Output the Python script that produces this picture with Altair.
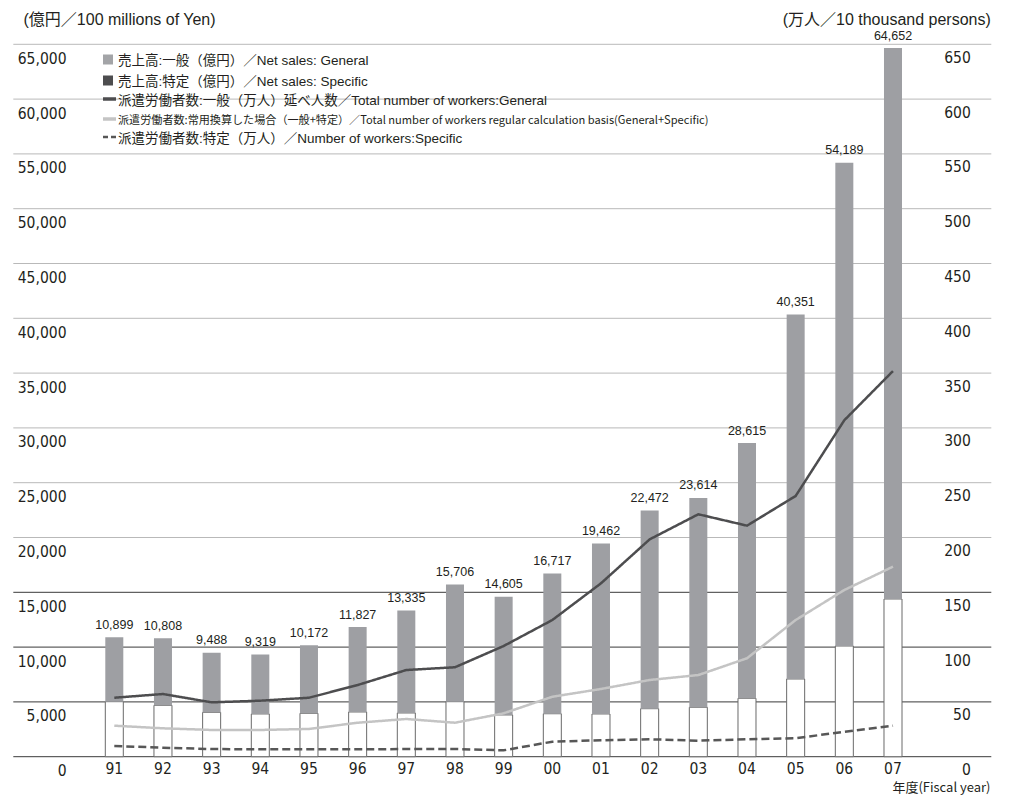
import altair as alt
import pandas as pd

# ---------------- data ----------------
years = ["91", "92", "93", "94", "95", "96", "97", "98", "99", "00",
         "01", "02", "03", "04", "05", "06", "07"]
sales_total = [10899, 10808, 9488, 9319, 10172, 11827, 13335, 15706, 14605,
               16717, 19462, 22472, 23614, 28615, 40351, 54189, 64652]
sales_specific = [5020, 4690, 4050, 3900, 3960, 4080, 3990, 5020, 3810,
                  3920, 3900, 4380, 4510, 5330, 7090, 10100, 14390]
workers_general = [53.8, 57.2, 49.6, 51.1, 53.8, 65.4, 79.1, 81.6, 101.0,
                   124.7, 158.2, 198.3, 221.2, 210.8, 237.9, 307.0, 351.9]
workers_regular = [28.3, 25.9, 24.4, 24.4, 25.3, 31.0, 34.4, 31.0, 39.6,
                   54.7, 61.8, 70.0, 74.5, 89.8, 124.7, 152.1, 173.4]
workers_specific = [9.8, 8.2, 7.0, 6.7, 6.7, 6.7, 7.0, 7.0, 5.8,
                    13.7, 15.0, 15.9, 14.6, 15.9, 16.8, 22.8, 28.3]

left_ticks = list(range(0, 65001, 5000))
right_ticks = list(range(0, 651, 50))
series_keys = ["general", "regular", "specific"]
legend_labels = [
    "売上高:一般（億円）／Net sales: General",
    "売上高:特定（億円）／Net sales: Specific",
    "派遣労働者数:一般（万人）延べ人数／Total number of workers:General",
    "派遣労働者数:常用換算した場合（一般+特定）／Total number of workers regular calculation basis(General+Specific)",
    "派遣労働者数:特定（万人）／Number of workers:Specific",
]
left_title = "(億円／100 millions of Yen)"
right_title = "(万人／10 thousand persons)"
x_title = "年度(Fiscal year)"

# ---------------- styles ----------------
NUM_FONT = "'Liberation Sans Narrow', 'DejaVu Sans Condensed', Roboto, sans-serif"
TXT_FONT = "'Liberation Sans', 'Noto Sans CJK JP', sans-serif"
NARROW_JP = "'Liberation Sans Narrow', 'Noto Sans CJK JP', sans-serif"
INK = "#231f20"
BAR_GRAY = "#9e9fa3"
LINE_DARK = "#4d4d4f"
LINE_LIGHT = "#c4c4c4"

W, H = 978, 712.4
PAD = {"left": 5.3, "top": 36.3, "right": 13.7, "bottom": 40.3}

bars_df = pd.DataFrame({"year": years, "total": sales_total, "specific": sales_specific})
grid_df = pd.DataFrame({"v": left_ticks})
lines_df = pd.DataFrame(
    [{"year": y, "series": k, "value": v}
     for k, vals in zip(series_keys, [workers_general, workers_regular, workers_specific])
     for y, v in zip(years, vals)]
)

xscale = alt.Scale(paddingInner=0.63, paddingOuter=0, range=[92, 888.7])
x_axis = alt.Axis(
    orient="bottom", labelAngle=0, ticks=False, domain=False, grid=False,
    labelFont=NUM_FONT, labelFontSize=15.5, labelColor=INK,
    labelPadding=12, labelBaseline="middle",
    title=x_title, titleFont=NARROW_JP, titleFontSize=13, titleFontWeight="normal",
    titleColor=INK, titleAlign="right", titleBaseline="middle",
    titleX=976.7, titleY=31,
)

left_axis = alt.Axis(
    orient="left", values=left_ticks, format=",d",
    ticks=False, domain=False, grid=False,
    labelAlign="right", labelPadding=-52.7, labelBaseline="middle", labelOffset=14,
    labelFont=NUM_FONT, labelFontSize=15.5, labelColor=INK,
    title=left_title, titleAngle=0, titleAlign="left", titleBaseline="middle",
    titleX=9.7, titleY=-24.5, titleFont=TXT_FONT, titleFontSize=16,
    titleFontWeight="normal", titleColor=INK,
)
right_axis = alt.Axis(
    orient="right", values=right_ticks, format="d",
    ticks=False, domain=False, grid=False,
    labelAlign="right", labelPadding=-21, labelBaseline="middle", labelOffset=13,
    labelFont=NUM_FONT, labelFontSize=15.5, labelColor=INK,
    title=right_title, titleAngle=0, titleAlign="right", titleBaseline="middle",
    titleX=-1, titleY=-24.5, titleFont=TXT_FONT, titleFontSize=16,
    titleFontWeight="normal", titleColor=INK,
)
lscale = alt.Scale(domain=[0, 65000], nice=False, zero=True)
rscale = alt.Scale(domain=[0, 650], nice=False, zero=True)

x_enc = alt.X("year:N", sort=years, scale=xscale, axis=x_axis)

# gridlines: dark for the lower four values, light above
grid = alt.Chart(grid_df).mark_rule(strokeWidth=1).encode(
    y=alt.Y("v:Q", scale=lscale, axis=left_axis),
    x=alt.value(0), x2=alt.value(W),
    color=alt.condition("datum.v <= 15000", alt.value("#3a3a3a"), alt.value("#b9b9b9")),
)

base = alt.Chart(bars_df)
white_bar = base.mark_bar(fill="white", stroke="#6a6a6a", strokeWidth=1).encode(
    x=x_enc,
    y=alt.Y("specific:Q", scale=lscale, axis=left_axis),
)
gray_bar = base.mark_bar(fill=BAR_GRAY).encode(
    x=x_enc,
    y=alt.Y("total:Q", scale=lscale, axis=left_axis),
    y2="specific:Q",
)
labels = base.mark_text(
    font="'Liberation Sans', sans-serif", fontSize=12.5, color=INK,
    baseline="alphabetic", dy=-8.5,
).encode(
    x=x_enc,
    y=alt.Y("total:Q", scale=lscale, axis=left_axis),
    text=alt.Text("total:Q", format=","),
)
left = alt.layer(grid, white_bar, gray_bar, labels)

lines = alt.Chart(lines_df).mark_line(strokeWidth=2.5).encode(
    x=x_enc,
    y=alt.Y("value:Q", scale=rscale, axis=right_axis),
    color=alt.Color("series:N", scale=alt.Scale(domain=series_keys,
                    range=[LINE_DARK, LINE_LIGHT, "#575757"]), legend=None),
    strokeDash=alt.StrokeDash("series:N", scale=alt.Scale(domain=series_keys,
                    range=[[1, 0], [1, 0], [8, 4]]), legend=None),
    detail="series:N",
)

# ---------------- legend (drawn as text + symbols) ----------------
one = pd.DataFrame({"k": [0]})
row_y = [16.2, 37.2, 56.2, 76.2, 94.2]
sym_x, txt_x = 94.7, 104.7
legend_layers = []
legend_layers.append(alt.Chart(one).mark_square(size=100, color="#a3a4a7", opacity=1).encode(
    x=alt.value(sym_x), y=alt.value(row_y[0] - 1)))
legend_layers.append(alt.Chart(one).mark_square(size=100, color="#4d4d4f", opacity=1).encode(
    x=alt.value(sym_x), y=alt.value(row_y[1] - 1)))
legend_layers.append(alt.Chart(one).mark_rule(color=LINE_DARK, strokeWidth=3.5).encode(
    x=alt.value(sym_x - 5), x2=alt.value(sym_x + 8), y=alt.value(row_y[2] - 1.5)))
legend_layers.append(alt.Chart(one).mark_rule(color=LINE_LIGHT, strokeWidth=3.5).encode(
    x=alt.value(sym_x - 5), x2=alt.value(sym_x + 8), y=alt.value(row_y[3] - 1.5)))
legend_layers.append(alt.Chart(one).mark_rule(color="#575757", strokeWidth=2.5, strokeDash=[5, 3]).encode(
    x=alt.value(sym_x - 5), x2=alt.value(sym_x + 8), y=alt.value(row_y[4] - 1.5)))
for i, lab in enumerate(legend_labels):
    small = (i == 3)
    legend_layers.append(
        alt.Chart(one).mark_text(
            text=lab, align="left", baseline="middle",
            font=NARROW_JP if small else TXT_FONT,
            fontSize=11.1 if small else 13.5, color=INK,
        ).encode(x=alt.value(txt_x), y=alt.value(row_y[i]))
    )

chart = alt.layer(left, lines, *legend_layers).resolve_scale(y="independent").properties(
    width=W, height=H,
    padding=PAD,
    autosize=alt.AutoSizeParams(type="none"),
    background="white",
).configure_view(strokeWidth=0)

chart.save("out.html", embed_options={"renderer": "svg", "actions": False})
